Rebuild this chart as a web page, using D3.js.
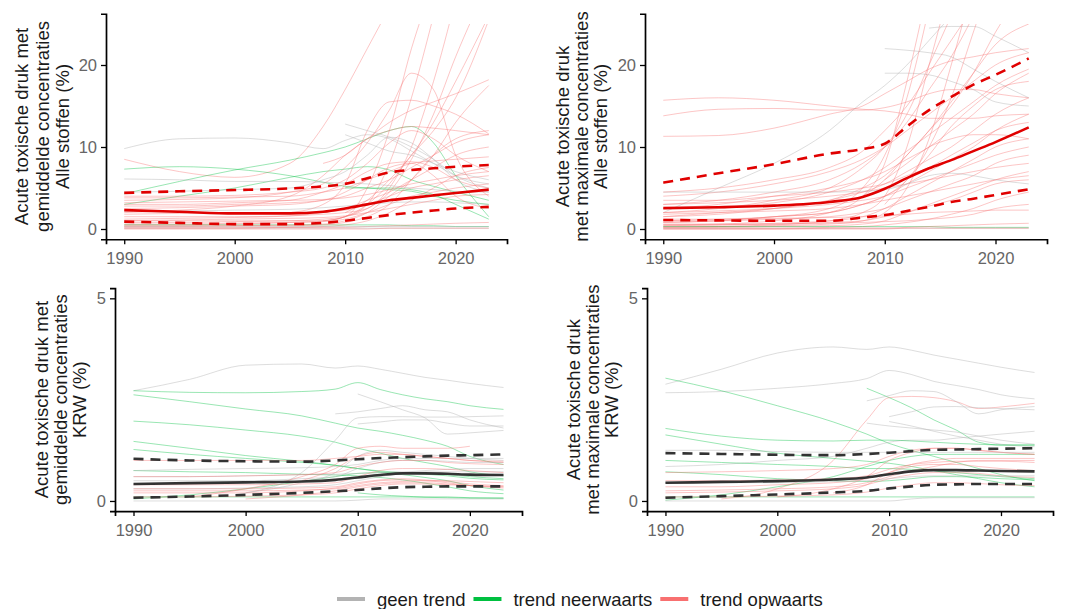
<!DOCTYPE html>
<html><head><meta charset="utf-8">
<script src="https://cdn.jsdelivr.net/npm/d3@7"></script>
<style>
body{margin:0;background:#fff;}
svg{display:block;font-family:"Liberation Sans",Arial,sans-serif;}
</style></head>
<body><svg id="c" width="1069" height="609"></svg>
<script>
const YEARS = [1990, 1995, 2000, 2005, 2008, 2010, 2012, 2014, 2016, 2018, 2020, 2023];
const _ = null;
const trendNames = {g: "geen trend", n: "trend neerwaarts", o: "trend opwaarts"};
const trendColors = {g: "#b3b3b3", n: "#00c040", o: "#f87070"};
const legendOrder = ["g", "n", "o"];
const xTicks = [1990, 2000, 2010, 2020];
const yTicksTop = [0, 10, 20];
const yTicksBottom = [0, 5];

const tlLines = [
 ["g",[9.8,11.0,11.1,10.5,9.8,10.8,11.5,11.0,9.5,8.0,6.5,5.5]],
 ["o",[8.5,7.0,6.3,8.0,12.5,17.0,22.0,27,_,_,_,_]],
 ["n",[7.3,7.6,7.3,6.5,5.7,5.2,5.0,4.8,4.6,4.0,3.5,3.0]],
 ["n",[4.3,5.8,7.2,8.4,9.3,10.0,11.0,12.0,12.5,10.5,6.5,1.5]],
 ["n",[3.0,4.0,5.0,6.3,7.0,7.3,7.6,7.2,6.0,5.2,4.5,3.5]],
 ["g",[6.1,6.0,5.8,5.8,5.7,5.6,5.5,5.3,5.0,4.8,4.6,4.5]],
 ["o",[3.5,3.6,3.8,4.5,5.5,7.5,10.5,14.5,19.0,17.0,9.0,4.0]],
 ["o",[_,_,_,2.0,3.0,5.5,12.0,15.5,15.7,15.0,14.0,11.6]],
 ["o",[2.0,2.3,2.8,4.0,6.5,9.0,11.0,13.0,14.5,15.5,16.5,18.2]],
 ["o",[1.0,1.0,1.0,1.0,1.0,1.5,5.0,12.0,22.0,30,_,_]],
 ["o",[0.5,0.5,0.6,0.8,1.0,1.5,3.0,8.0,16.0,26.0,_,_]],
 ["o",[1.5,1.5,1.5,1.6,1.8,2.0,2.5,5.0,10.0,18.0,28,_]],
 ["o",[0.8,0.8,0.9,1.0,1.2,1.5,2.5,4.5,8.5,14.0,21.0,30]],
 ["o",[_,_,_,_,_,2.0,3.5,6.0,9.0,13.0,18.0,26.0]],
 ["o",[_,_,_,_,1.0,1.5,3.0,5.5,9.0,12.0,16.0,25.5]],
 ["o",[0.3,0.3,0.4,0.5,0.6,1.0,2.0,4.0,6.0,9.0,13.0,17.5]],
 ["o",[2.5,2.6,2.8,3.0,3.5,4.0,5.0,6.0,7.5,9.0,10.5,11.5]],
 ["o",[1.2,1.3,1.4,1.6,2.0,2.5,3.5,4.5,6.0,7.5,9.0,10.0]],
 ["o",[3.8,3.8,3.9,4.0,4.5,5.0,6.0,7.0,8.0,8.3,8.5,8.8]],
 ["g",[_,_,_,_,_,12.8,12.0,11.2,10.0,8.5,6.5,5.0]],
 ["g",[4.5,4.6,4.8,5.0,6.0,7.0,9.0,11.2,10.5,8.5,6.0,4.5]],
 ["o",[_,_,_,_,8.0,9.0,11.0,12.0,12.5,12.3,12.0,11.5]],
 ["o",[0.2,0.2,0.2,0.2,0.3,0.5,1.0,2.0,3.5,5.0,6.5,7.5]],
 ["o",[1.8,1.9,2.0,2.0,2.1,2.3,3.0,4.0,5.0,5.5,6.0,6.5]],
 ["o",[0.6,0.6,0.7,0.8,0.9,1.2,2.0,3.0,4.0,4.5,5.0,5.5]],
 ["g",[2.2,2.2,2.3,2.4,2.6,2.8,3.0,3.2,3.3,3.3,3.2,3.0]],
 ["o",[3.0,3.0,3.2,3.5,4.5,5.5,7.0,8.0,8.2,7.5,6.0,5.0]],
 ["o",[4.0,4.0,4.1,4.5,5.0,6.0,8.0,10.5,12.0,11.0,9.0,7.0]],
 ["g",[0.1,0.1,0.1,0.1,0.1,0.1,0.1,0.1,0.1,0.1,0.1,0.1]],
 ["n",[0.5,0.5,0.5,0.5,0.5,0.5,0.5,0.5,0.4,0.4,0.3,0.3]],
 ["o",[0.1,0.1,0.1,0.2,0.2,0.2,0.3,0.4,0.5,0.6,0.7,0.8]],
 ["o",[1.0,1.1,1.2,1.3,1.4,1.6,2.0,2.5,3.0,3.5,4.0,4.2]],
 ["g",[0.3,0.3,0.3,0.3,0.3,0.3,0.3,0.3,0.3,0.3,0.3,0.3]],
 ["o",[2.8,2.8,3.0,3.2,3.5,4.5,6.0,7.5,8.0,6.5,4.0,2.5]],
 ["g",[_,_,_,_,_,11.5,10.5,9.5,9.0,8.0,7.0,6.0]],
 ["n",[_,_,_,_,_,5.0,5.0,5.0,4.8,4.2,3.0,1.2]],
 ["o",[0.4,0.4,0.4,0.4,0.5,0.8,1.5,3.0,6.0,9.0,11.0,12.0]],
 ["o",[3.2,3.3,3.4,3.5,3.6,3.8,4.2,4.8,5.5,6.0,6.5,7.0]],
 ["o",[0.0,0.0,0.0,0.0,0.0,0.0,0.0,0.1,0.1,0.1,0.1,0.1]]
];
const tlMedian = [2.3,2.1,1.9,1.9,2.1,2.5,3.0,3.5,3.8,4.1,4.4,4.8];
const tlUpper  = [4.4,4.6,4.75,4.95,5.2,5.5,6.2,6.9,7.2,7.4,7.6,7.8];
const tlLower  = [0.9,0.75,0.6,0.6,0.75,1.0,1.35,1.7,2.0,2.25,2.5,2.7];

const trLines = [
 ["o",[15.7,16.0,15.7,15.0,14.6,14.4,14.0,13.5,13.5,13.5,13.8,14.0]],
 ["o",[13.8,14.6,14.7,14.5,14.5,14.8,15.5,16.5,17.0,17.0,16.5,16.0]],
 ["o",[11.3,11.4,12.3,14.0,15.0,16.5,18.0,19.5,20.5,21.0,21.5,22.0]],
 ["g",[2.0,5.0,8.0,12.0,15.5,17.5,20.0,23.0,26.0,_,_,_]],
 ["g",[_,_,_,_,_,22.0,21.8,21.5,21.0,19.5,18.0,16.0]],
 ["g",[_,_,_,_,_,19.0,19.0,18.8,18.0,17.0,15.5,15.0]],
 ["g",[_,_,_,_,_,_,_,24.5,24.7,24.7,23.5,21.5]],
 ["o",[0.5,0.6,1.0,2.0,4.0,8.0,18.0,30,_,_,_,_]],
 ["o",[1.0,1.2,1.5,2.5,5.0,9.0,16.0,27.0,_,_,_,_]],
 ["o",[0.2,0.3,0.5,1.0,2.0,4.0,10.0,20.0,30,_,_,_]],
 ["o",[2.0,2.5,3.5,5.0,7.5,10.0,14.0,20.0,26.0,_,_,_]],
 ["o",[0.3,0.3,0.4,0.6,1.0,2.0,5.0,11.0,20.0,30,_,_]],
 ["o",[3.0,3.5,4.5,6.0,8.0,10.0,13.0,17.0,21.0,26.0,_,_]],
 ["o",[0.8,1.0,1.5,2.0,3.0,4.0,6.0,10.0,16.0,24.0,32,_]],
 ["o",[1.5,2.0,2.5,3.5,5.0,6.5,9.0,12.0,15.0,19.0,24.0,30]],
 ["o",[_,_,_,_,4.0,6.0,9.0,12.0,15.5,19.0,22.5,25.0]],
 ["o",[4.0,4.5,5.5,7.0,8.5,10.0,12.0,14.0,16.0,18.0,20.0,21.5]],
 ["o",[2.5,3.0,4.0,5.0,6.0,7.0,8.5,10.0,12.0,14.0,16.5,19.0]],
 ["o",[1.5,1.8,2.5,3.5,4.5,5.5,7.0,8.5,10.0,12.0,14.0,16.0]],
 ["o",[0.8,1.0,1.5,2.0,3.0,4.0,5.5,7.0,8.5,10.0,12.0,14.0]],
 ["o",[3.5,3.5,4.0,4.5,5.0,5.5,6.5,7.5,9.0,10.5,12.0,13.0]],
 ["o",[0.4,0.5,0.7,1.0,1.5,2.5,4.0,5.5,7.0,8.5,10.0,11.0]],
 ["o",[2.0,2.2,2.5,3.0,3.5,4.0,5.0,6.0,7.0,8.0,9.0,10.0]],
 ["o",[1.0,1.0,1.2,1.5,2.0,2.5,3.5,4.5,5.5,6.5,8.0,9.0]],
 ["o",[0.2,0.2,0.3,0.4,0.6,1.0,2.0,3.0,4.0,5.0,6.0,7.0]],
 ["o",[0.5,0.5,0.6,0.8,1.0,1.5,2.0,2.8,3.5,4.5,5.5,6.0]],
 ["o",[3.0,3.2,3.5,4.0,4.5,5.0,5.5,6.0,6.5,7.0,7.5,8.0]],
 ["o",[0.1,0.1,0.1,0.2,0.3,0.5,0.8,1.2,1.8,2.5,3.5,4.5]],
 ["g",[0.1,0.1,0.1,0.1,0.1,0.1,0.1,0.1,0.1,0.1,0.1,0.1]],
 ["n",[0.3,0.3,0.3,0.3,0.3,0.3,0.3,0.3,0.2,0.2,0.2,0.2]],
 ["o",[0.0,0.0,0.0,0.1,0.1,0.1,0.2,0.3,0.4,0.5,0.6,0.7]],
 ["o",[1.2,1.2,1.3,1.4,1.5,1.6,1.8,2.0,2.1,2.2,2.3,2.3]],
 ["g",[4.5,4.5,4.5,4.5,4.6,4.8,5.5,6.5,6.8,6.5,6.0,5.5]],
 ["o",[0.6,0.6,0.6,0.7,0.8,0.9,1.0,1.2,1.4,1.8,2.5,3.0]],
 ["o",[_,_,_,_,_,6.0,8.0,10.0,11.0,11.5,11.5,11.0]],
 ["o",[2.5,2.7,3.2,4.5,6.0,7.5,9.5,11.5,13.5,15.5,17.5,19.5]],
 ["o",[4.5,5.0,6.0,7.5,9.5,12.0,15.0,19.0,23.0,27.0,_,_]],
 ["o",[0.0,0.0,0.0,0.0,0.0,0.0,0.1,0.1,0.1,0.1,0.1,0.1]],
 ["o",[_,_,_,_,_,3.0,6.0,9.0,12.5,15.0,17.0,18.0]],
 ["o",[1.8,2.0,2.2,2.5,3.0,3.5,4.0,4.5,5.0,5.5,6.0,6.5]]
];
const trMedian = [2.55,2.65,2.85,3.3,3.9,4.9,6.2,7.4,8.4,9.5,10.6,12.4];
const trUpper  = [5.65,6.8,7.9,9.2,9.75,10.4,12.5,14.5,16.1,17.6,18.8,20.8];
const trLower  = [1.1,1.05,1.0,1.0,1.4,1.7,2.2,2.7,3.3,3.7,4.15,4.85];

const blLines = [
 ["g",[2.72,3.0,3.35,3.38,3.28,3.33,3.25,3.15,3.05,2.98,2.9,2.80]],
 ["n",[2.72,2.68,2.67,2.70,2.76,2.92,2.75,2.62,2.52,2.45,2.35,2.26]],
 ["n",[2.62,2.45,2.27,2.10,1.92,1.80,1.72,1.62,1.50,1.35,1.10,0.9]],
 ["n",[1.97,1.88,1.75,1.60,1.45,1.30,1.18,1.05,0.95,0.85,0.72,0.62]],
 ["n",[1.47,1.30,1.12,0.98,0.88,0.80,0.72,0.65,0.58,0.50,0.38,0.27]],
 ["n",[1.27,1.15,1.05,0.95,0.88,0.80,0.74,0.70,0.66,0.62,0.56,0.52]],
 ["n",[0.75,0.72,0.70,0.66,0.64,0.62,0.58,0.52,0.44,0.35,0.25,0.18]],
 ["n",[0.05,0.15,0.30,0.48,0.60,0.68,0.70,0.70,0.68,0.65,0.60,0.55]],
 ["n",[0.10,0.10,0.10,0.10,0.10,0.10,0.10,0.10,0.09,0.08,0.07,0.06]],
 ["g",[_,_,_,_,_,2.64,2.45,2.25,2.05,1.65,1.68,1.74]],
 ["g",[_,_,_,_,2.15,2.2,2.28,2.35,2.25,2.2,2.0,1.8]],
 ["g",[_,_,0.2,0.7,1.5,2.05,2.08,2.08,2.07,2.07,2.08,2.1]],
 ["g",[_,_,_,_,_,1.9,1.95,2.0,2.0,1.92,1.85,1.85]],
 ["g",[0.75,0.78,0.8,0.82,0.85,0.9,1.0,1.05,1.05,1.05,1.05,1.05]],
 ["g",[0.5,0.5,0.5,0.55,0.6,0.8,0.95,1.0,1.0,0.98,0.95,0.95]],
 ["g",[0.3,0.3,0.32,0.35,0.4,0.5,0.6,0.7,0.75,0.78,0.8,0.8]],
 ["g",[0.0,0.0,0.0,0.0,0.0,0.02,0.05,0.05,0.05,0.05,0.05,0.05]],
 ["g",[_,_,0.2,0.45,0.7,1.1,1.25,1.2,1.15,1.1,1.05,1.0]],
 ["g",[0.6,0.6,0.62,0.65,0.66,0.68,0.7,0.72,0.72,0.72,0.72,0.72]],
 ["o",[0.3,0.3,0.3,0.32,0.35,0.45,0.52,0.55,0.52,0.48,0.42,0.38]],
 ["o",[0.2,0.2,0.2,0.25,0.32,0.42,0.5,0.52,0.5,0.45,0.38,0.32]],
 ["o",[_,0.1,0.3,0.6,0.9,1.3,1.35,1.3,1.3,1.3,1.35,_]],
 ["o",[1.0,1.0,1.0,1.0,1.05,1.1,1.15,1.15,1.1,1.05,1.0,0.95]],
 ["o",[0.1,0.1,0.12,0.15,0.2,0.3,0.38,0.42,0.42,0.4,0.38,0.35]],
 ["o",[0.4,0.4,0.4,0.42,0.45,0.6,0.75,0.8,0.8,0.78,0.75,0.7]],
 ["o",[0.25,0.25,0.25,0.27,0.3,0.38,0.45,0.48,0.5,0.5,0.48,0.45]],
 ["o",[_,_,0.05,0.15,0.25,0.35,0.42,0.45,0.45,0.42,0.38,0.35]],
 ["o",[0.6,0.6,0.62,0.65,0.7,0.85,0.95,1.0,1.0,0.95,0.92,0.9]],
 ["o",[_,_,_,0.5,0.8,1.1,1.2,1.15,1.1,1.05,1.0,0.98]],
 ["n",[_,_,_,_,_,0.2,0.15,0.12,0.1,0.1,0.08,0.08]]
];
const blMedian = [0.42,0.44,0.46,0.48,0.52,0.58,0.64,0.68,0.68,0.67,0.65,0.64];
const blUpper  = [1.04,1.0,0.98,0.97,1.0,1.03,1.06,1.08,1.1,1.12,1.13,1.15];
const blLower  = [0.08,0.11,0.15,0.2,0.24,0.27,0.31,0.34,0.35,0.36,0.36,0.36];

const brLines = [
 ["g",[2.88,3.25,3.65,3.80,3.74,3.80,3.72,3.60,3.50,3.40,3.30,3.17]],
 ["g",[2.67,2.70,2.78,2.90,3.02,3.22,3.12,2.95,2.85,2.75,2.62,2.52]],
 ["n",[3.03,2.72,2.35,1.95,1.65,1.42,1.25,1.10,0.95,0.80,0.65,0.5]],
 ["n",[_,_,_,_,2.78,2.55,2.3,2.0,1.75,1.45,1.38,1.38]],
 ["o",[_,0.05,0.3,1.0,2.0,2.55,2.58,2.55,2.45,2.28,2.32,2.41]],
 ["g",[_,_,_,_,2.47,2.6,2.72,2.7,2.45,2.15,2.25,2.33]],
 ["g",[_,_,_,_,_,2.08,2.2,2.32,2.33,2.3,2.28,2.25]],
 ["g",[_,_,_,_,1.92,1.85,1.8,1.75,1.7,1.6,1.5,1.4]],
 ["g",[_,_,_,_,_,1.96,1.85,1.72,1.6,1.5,1.4,1.34]],
 ["g",[0.85,0.9,1.0,1.1,1.3,1.45,1.5,1.5,1.55,1.6,1.65,1.72]],
 ["n",[1.79,1.6,1.5,1.48,1.5,1.5,1.48,1.45,1.42,1.4,1.38,1.38]],
 ["n",[1.63,1.4,1.18,1.05,0.98,0.93,0.85,0.75,0.65,0.55,0.45,0.35]],
 ["n",[0.72,0.65,0.55,0.5,0.48,0.5,0.55,0.6,0.6,0.58,0.55,0.52]],
 ["n",[0.02,0.15,0.35,0.6,0.85,1.0,1.1,1.15,1.15,1.15,1.15,1.15]],
 ["n",[0.1,0.1,0.1,0.1,0.1,0.1,0.1,0.1,0.1,0.1,0.1,0.1]],
 ["n",[1.0,0.95,0.9,0.85,0.8,0.8,0.78,0.75,0.7,0.65,0.6,0.55]],
 ["o",[0.35,0.35,0.4,0.45,0.55,0.7,0.85,0.9,0.9,0.85,0.8,0.75]],
 ["o",[0.2,0.22,0.25,0.3,0.4,0.55,0.65,0.7,0.7,0.68,0.62,0.58]],
 ["o",[0.7,0.72,0.75,0.8,0.9,1.1,1.25,1.3,1.3,1.25,1.2,1.15]],
 ["o",[_,_,0.1,0.3,0.6,1.0,1.2,1.3,1.3,1.25,1.2,1.15]],
 ["o",[0.1,0.1,0.12,0.15,0.22,0.32,0.4,0.45,0.45,0.43,0.4,0.38]],
 ["o",[0.5,0.5,0.52,0.55,0.62,0.78,0.9,0.95,0.98,0.98,0.98,0.95]],
 ["o",[0.25,0.27,0.3,0.35,0.45,0.6,0.75,0.85,0.95,1.0,1.0,1.0]],
 ["o",[_,_,_,0.2,0.4,0.7,0.9,1.0,1.05,1.05,1.05,1.05]],
 ["g",[0.45,0.45,0.45,0.48,0.5,0.55,0.6,0.62,0.62,0.62,0.62,0.62]],
 ["g",[0.0,0.0,0.0,0.0,0.0,0.0,0.05,0.08,0.08,0.08,0.08,0.08]],
 ["g",[1.25,1.25,1.22,1.2,1.2,1.2,1.2,1.2,1.2,1.2,1.2,1.2]]
];
const brMedian = [0.45,0.47,0.49,0.53,0.58,0.66,0.73,0.76,0.76,0.75,0.74,0.73];
const brUpper  = [1.18,1.16,1.14,1.13,1.16,1.19,1.23,1.26,1.27,1.28,1.29,1.30];
const brLower  = [0.08,0.12,0.16,0.21,0.25,0.31,0.36,0.40,0.41,0.42,0.42,0.42];

const panels = [
 {id:"tl", lines:tlLines, med:tlMedian, up:tlUpper, lo:tlLower, statColor:"#e00000",
  x0:106, x1:507, yTop:13.75, yBot:239.25, ymax:25, ticks:yTicksTop,
  title:["Acute toxische druk met","gemiddelde concentraties","Alle stoffen (%)"], tx:[21,42,62]},
 {id:"tr", lines:trLines, med:trMedian, up:trUpper, lo:trLower, statColor:"#e00000",
  x0:645, x1:1047, yTop:13.75, yBot:239.25, ymax:25, ticks:yTicksTop,
  title:["Acute toxische druk","met maximale concentraties","Alle stoffen (%)"], tx:[562,581,600]},
 {id:"bl", lines:blLines, med:blMedian, up:blUpper, lo:blLower, statColor:"#333333",
  x0:115, x1:522, yTop:288.2, yBot:511.1, ymax:5, ticks:yTicksBottom,
  title:["Acute toxische druk met","gemiddelde concentraties","KRW (%)"], tx:[41,60,79]},
 {id:"br", lines:brLines, med:brMedian, up:brUpper, lo:brLower, statColor:"#333333",
  x0:647, x1:1053, yTop:288.2, yBot:511.1, ymax:5, ticks:yTicksBottom,
  title:["Acute toxische druk","met maximale concentraties","KRW (%)"], tx:[573,592,611]}
];

const svg = d3.select("#c");
const xMin = 1990, xMax = 2023, xPad = (xMax - xMin) * 0.05;

panels.forEach(p => {
  const yPad = p.ymax * 0.05;
  const x = d3.scaleLinear().domain([xMin - xPad, xMax + xPad]).range([p.x0, p.x1]);
  const y = d3.scaleLinear().domain([-yPad, p.ymax + yPad]).range([p.yBot, p.yTop]);
  const g = svg.append("g");

  g.append("clipPath").attr("id", "clip-" + p.id).append("rect")
    .attr("x", p.x0).attr("y", y(p.ymax)).attr("width", p.x1 - p.x0).attr("height", p.yBot - y(p.ymax));

  const line = d3.line()
    .defined(d => d[1] !== null)
    .x(d => x(d[0])).y(d => y(d[1]))
    .curve(d3.curveMonotoneX);

  const plot = g.append("g").attr("clip-path", "url(#clip-" + p.id + ")");
  p.lines.forEach(([t, vals]) => {
    plot.append("path")
      .attr("d", line(YEARS.map((yr, i) => [yr, vals[i]])))
      .attr("fill", "none").attr("stroke", trendColors[t])
      .attr("stroke-opacity", t === "g" ? 0.45 : 0.4).attr("stroke-width", 1);
  });

  [[p.up, true], [p.lo, true], [p.med, false]].forEach(([vals, dashed]) => {
    plot.append("path")
      .attr("d", line(YEARS.map((yr, i) => [yr, vals[i]])))
      .attr("fill", "none").attr("stroke", p.statColor).attr("stroke-width", 2.6)
      .attr("stroke-dasharray", dashed ? "10,7" : null);
  });

  const xAxis = g.append("g").attr("transform", `translate(0,${p.yBot})`)
    .call(d3.axisBottom(x).tickValues(xTicks).tickFormat(d3.format("d")).tickSize(5).tickPadding(4));
  const yAxis = g.append("g").attr("transform", `translate(${p.x0},0)`)
    .call(d3.axisLeft(y).tickValues(p.ticks).tickFormat(d3.format("d")).tickSize(5).tickPadding(4));
  [xAxis, yAxis].forEach(a => {
    a.select(".domain").attr("stroke", "#000").attr("stroke-width", 1.7);
    a.selectAll(".tick line").attr("stroke", "#000").attr("stroke-width", 1.3);
    a.selectAll(".tick text").attr("fill", "#666").attr("font-size", 16.5)
      .attr("font-family", "Liberation Sans, Arial, sans-serif");
  });
  xAxis.selectAll(".tick text").attr("dy", "0.95em");

  const cy = (p.yTop + p.yBot) / 2;
  p.title.forEach((txt, i) => {
    g.append("text").attr("transform", `translate(${p.tx[i]},${cy}) rotate(-90)`)
      .attr("text-anchor", "middle").attr("dominant-baseline", "central")
      .attr("font-size", 18.5).attr("fill", "#1a1a1a").text(txt);
  });
});

// legend
const lg = svg.append("g");
const legY = 599;
let lx = 337;
legendOrder.forEach(k => {
  lg.append("line").attr("x1", lx).attr("x2", lx + 28).attr("y1", legY).attr("y2", legY)
    .attr("stroke", trendColors[k]).attr("stroke-width", 4);
  const t = lg.append("text").attr("x", lx + 40).attr("y", legY).attr("dominant-baseline", "central")
    .attr("font-size", 18.5).attr("fill", "#1a1a1a").text(trendNames[k]);
  lx = lx + 40 + t.node().getComputedTextLength() + 8;
});
</script></body></html>
